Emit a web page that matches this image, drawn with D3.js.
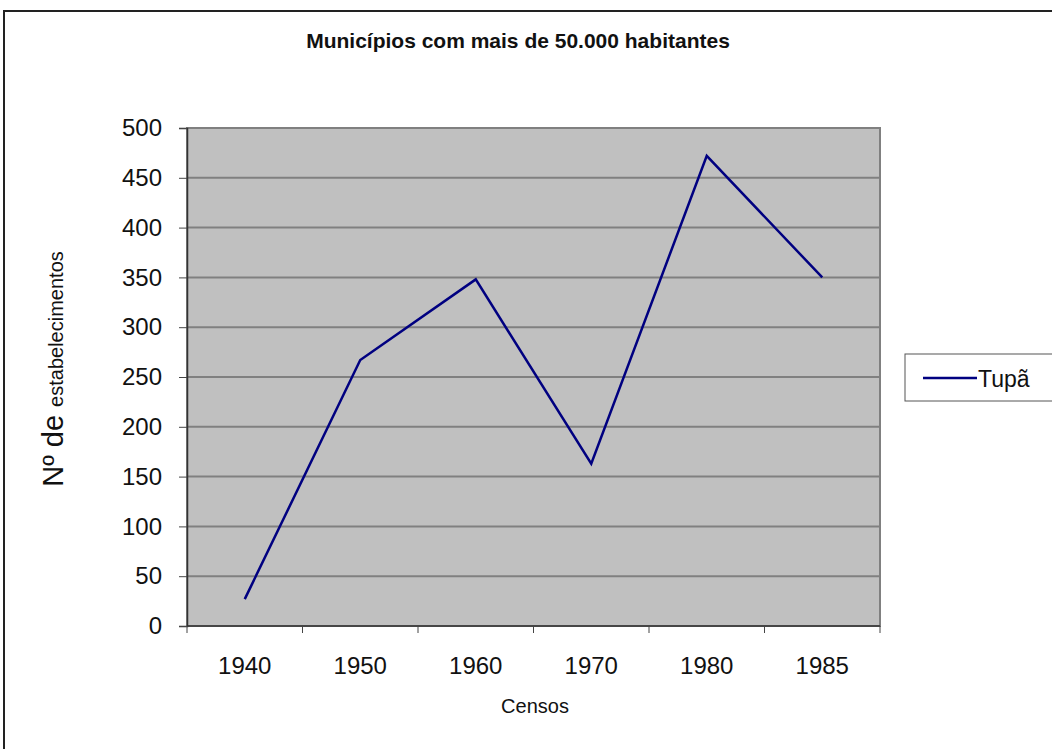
<!DOCTYPE html>
<html>
<head>
<meta charset="utf-8">
<script src="https://cdn.jsdelivr.net/npm/d3@7"></script>
<style>
  body { margin: 0; background: #fff; }
  svg { display: block; font-family: "Liberation Sans", Arial, sans-serif; }
</style>
</head>
<body>
<div id="chart"></div>
<script>
// data
let censos = ['1940', '1950', '1960', '1970', '1980', '1985'];
let tupa = [27, 267, 348, 163, 472, 350];
let yTicks = [0, 50, 100, 150, 200, 250, 300, 350, 400, 450, 500];
let seriesName = 'Tupã';

let width = 1052, height = 749;
let plot = { left: 187, right: 880, top: 128, bottom: 626 };

let svg = d3.select('#chart').append('svg')
    .attr('width', width)
    .attr('height', height);

// outer frame
svg.append('rect')
    .attr('x', 4).attr('y', 11)
    .attr('width', 1060).attr('height', 760)
    .attr('fill', 'none')
    .attr('stroke', '#222')
    .attr('stroke-width', 2);

svg.append('text')
    .attr('x', 518).attr('y', 48)
    .attr('text-anchor', 'middle')
    .attr('font-size', 21)
    .attr('font-weight', 'bold')
    .attr('fill', '#111')
    .text('Municípios com mais de 50.000 habitantes');

let x = d3.scaleBand().domain(censos).range([plot.left, plot.right]);
let y = d3.scaleLinear().domain([0, 500]).range([plot.bottom, plot.top]);

// plot background
svg.append('rect')
    .attr('x', plot.left).attr('y', plot.top)
    .attr('width', plot.right - plot.left)
    .attr('height', plot.bottom - plot.top)
    .attr('fill', '#c0c0c0')
    .attr('stroke', '#808080')
    .attr('stroke-width', 2);

// grid lines
svg.append('g').selectAll('line')
    .data(yTicks.filter(d => d > 0 && d < 500))
    .enter().append('line')
    .attr('x1', plot.left).attr('x2', plot.right)
    .attr('y1', d => y(d)).attr('y2', d => y(d))
    .attr('stroke', '#808080')
    .attr('stroke-width', 2);

// y axis
let yAxis = svg.append('g')
    .attr('transform', `translate(${plot.left},0)`)
    .call(d3.axisLeft(y).tickValues(yTicks).tickSize(8).tickPadding(17));
yAxis.selectAll('text').attr('font-size', 24).attr('fill', '#111');
yAxis.selectAll('line').attr('stroke', '#444');
yAxis.select('.domain').attr('stroke', '#333').attr('stroke-width', 1.5);

// x axis (ticks on band edges)
let xAxis = svg.append('g')
    .attr('transform', `translate(0,${plot.bottom})`);
xAxis.append('line')
    .attr('x1', plot.left).attr('x2', plot.right)
    .attr('y1', 0).attr('y2', 0)
    .attr('stroke', '#333').attr('stroke-width', 1.5);
let edges = censos.map(d => x(d)).concat([plot.right]);
xAxis.selectAll('.tick').data(edges).enter().append('line')
    .attr('x1', d => d).attr('x2', d => d)
    .attr('y1', 0).attr('y2', 7)
    .attr('stroke', '#444');
xAxis.selectAll('.lbl').data(censos).enter().append('text')
    .attr('x', d => x(d) + x.bandwidth() / 2)
    .attr('y', 48)
    .attr('text-anchor', 'middle')
    .attr('font-size', 24)
    .attr('fill', '#111')
    .text(d => d);

svg.append('text')
    .attr('x', 535).attr('y', 713)
    .attr('text-anchor', 'middle')
    .attr('font-size', 20)
    .attr('fill', '#111')
    .text('Censos');

// y label
let yl = svg.append('text')
    .attr('transform', 'translate(63,369) rotate(-90)')
    .attr('text-anchor', 'middle')
    .attr('fill', '#111');
yl.append('tspan').attr('font-size', 29).text('Nº de ');
yl.append('tspan').attr('font-size', 20).text('estabelecimentos');

// series line
let line = d3.line()
    .x((d, i) => x(censos[i]) + x.bandwidth() / 2)
    .y(d => y(d));

svg.append('path')
    .datum(tupa)
    .attr('fill', 'none')
    .attr('stroke', '#000080')
    .attr('stroke-width', 2.5)
    .attr('d', line);

// legend
let lg = svg.append('g');
lg.append('rect')
    .attr('x', 905).attr('y', 354)
    .attr('width', 160).attr('height', 47)
    .attr('fill', '#fff')
    .attr('stroke', '#555')
    .attr('stroke-width', 1);
lg.append('line')
    .attr('x1', 923).attr('x2', 977)
    .attr('y1', 378).attr('y2', 378)
    .attr('stroke', '#000080')
    .attr('stroke-width', 2.5);
lg.append('text')
    .attr('x', 978).attr('y', 387)
    .attr('font-size', 23)
    .attr('fill', '#111')
    .text(seriesName);
</script>
</body>
</html>
